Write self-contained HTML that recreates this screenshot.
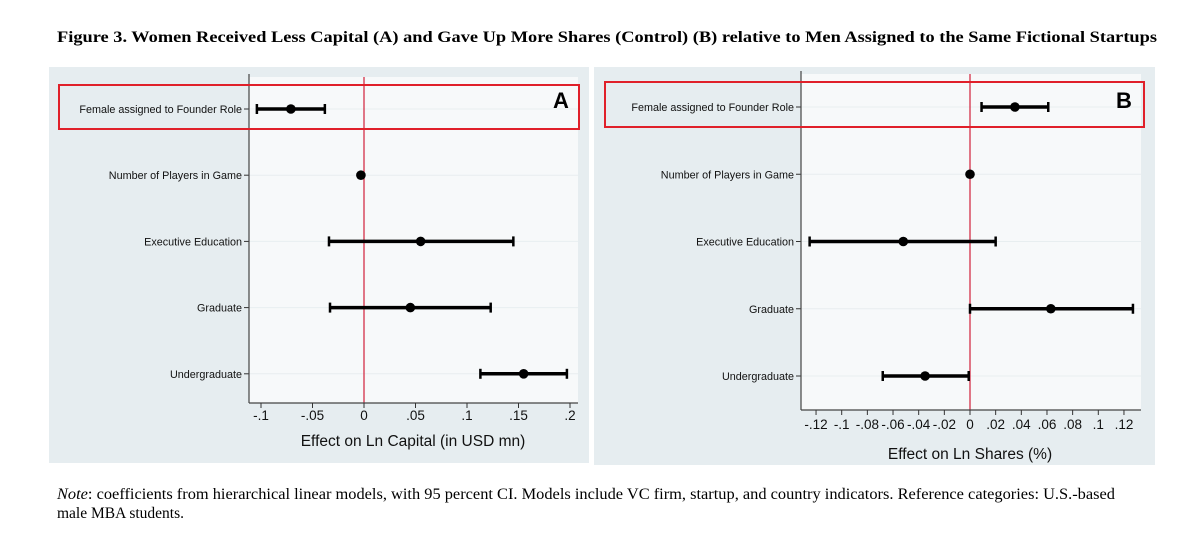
<!DOCTYPE html>
<html><head><meta charset="utf-8">
<style>
body{margin:0;background:#fff;width:1187px;height:540px;overflow:hidden;font-family:"Liberation Sans",sans-serif}
svg{display:block}
.t{font-family:"Liberation Serif",serif}
</style></head>
<body>
<svg id="fig" width="1187" height="540" xmlns="http://www.w3.org/2000/svg">
<text class="t" x="607" y="42" text-anchor="middle" font-size="16" font-weight="bold" textLength="1100" lengthAdjust="spacingAndGlyphs">Figure 3. Women Received Less Capital (A) and Gave Up More Shares (Control) (B) relative to Men Assigned to the Same Fictional Startups</text>
<rect x="49" y="67" width="540" height="396" fill="#e6edf0"/>
<rect x="594" y="67" width="561" height="398" fill="#e6edf0"/>
<g id="pa"></g>
<g id="pb"></g>
<text class="t" x="57" y="499" font-size="15.5" textLength="1058" lengthAdjust="spacingAndGlyphs"><tspan font-style="italic">Note</tspan>: coefficients from hierarchical linear models, with 95 percent CI. Models include VC firm, startup, and country indicators. Reference categories: U.S.-based</text>
<text class="t" x="57" y="518" font-size="15.5">male MBA students.</text>
</svg>
<script>
const categories = ["Female assigned to Founder Role","Number of Players in Game","Executive Education","Graduate","Undergraduate"];
const aEst = [-0.071,-0.003,0.055,0.045,0.155];
const aLo = [-0.104,null,-0.034,-0.033,0.113];
const aHi = [-0.038,null,0.145,0.123,0.197];
const aTicks = [-0.1,-0.05,0,0.05,0.1,0.15,0.2];
const aTickLabels = ["-.1","-.05","0",".05",".1",".15",".2"];
const bEst = [0.035,0,-0.052,0.063,-0.035];
const bLo = [0.009,null,-0.125,0,-0.068];
const bHi = [0.061,null,0.020,0.127,-0.001];
const bTicks = [-0.12,-0.1,-0.08,-0.06,-0.04,-0.02,0,0.02,0.04,0.06,0.08,0.1,0.12];
const bTickLabels = ["-.12","-.1","-.08","-.06","-.04","-.02","0",".02",".04",".06",".08",".1",".12"];
const NS="http://www.w3.org/2000/svg";
function mk(p,tag,at){const e=document.createElementNS(NS,tag);for(const k in at)e.setAttribute(k,at[k]);p.appendChild(e);return e;}
function panel(g,o){
  const X=v=>o.x0+v*o.k;
  const Y=i=>o.rows[0]+i*(o.rows[1]-o.rows[0]);
  let r=mk(g,'rect',{x:o.left,y:o.top,width:o.right-o.left,height:o.axisY-o.top,fill:'#f7f9fa'});
  
  
  categories.forEach((c,i)=>{
    let gl=mk(g,'line',{x1:o.left,x2:o.right,y1:Y(i),y2:Y(i),stroke:'#e8eef0','stroke-width':1});
    
    
    mk(g,'line',{x1:o.left-5,x2:o.left,y1:Y(i),y2:Y(i),stroke:'#333','stroke-width':1});
    let t=mk(g,'text',{x:o.left-7,y:Y(i)+4,'text-anchor':'end','font-size':10.8,fill:'#111'});
    t.textContent=c;
    
    
  });
  let z=mk(g,'line',{x1:X(0),x2:X(0),y1:o.top,y2:o.axisY,stroke:'#d0203a','stroke-width':1.2});
  
  
  mk(g,'line',{x1:o.left,x2:o.left,y1:o.top-3,y2:o.axisY,stroke:'#444','stroke-width':1.2});
  mk(g,'line',{x1:o.left,x2:o.right,y1:o.axisY,y2:o.axisY,stroke:'#444','stroke-width':1.2});
  o.ticks.forEach((v,i)=>{
    mk(g,'line',{x1:X(v),x2:X(v),y1:o.axisY,y2:o.axisY+5,stroke:'#333'});
    let t=mk(g,'text',{x:X(v),y:o.axisY+o.labOff,'text-anchor':'middle','font-size':13.5,fill:'#111'});
    t.textContent=o.labels[i];
    
    
  });
  let xt=mk(g,'text',{x:o.titleX,y:o.titleY,'text-anchor':'middle','font-size':15.5,fill:'#111'});
  xt.textContent=o.title;
  
  
  o.est.forEach((v,i)=>{
    if(o.lo[i]!==null){
      let l=mk(g,'line',{x1:X(o.lo[i]),x2:X(o.hi[i]),y1:Y(i),y2:Y(i),stroke:'#000','stroke-width':3.5});
      
      
      [o.lo[i],o.hi[i]].forEach(e=>mk(g,'line',{x1:X(e),x2:X(e),y1:Y(i)-5,y2:Y(i)+5,stroke:'#000','stroke-width':2.5}));
    }
    let c=mk(g,'circle',{cx:X(v),cy:Y(i),r:4.8,fill:'#000'});
    
    
  });
  let b=mk(g,'rect',{x:o.box[0],y:o.box[1],width:o.box[2],height:o.box[3],fill:'none',stroke:'#e0202a','stroke-width':2});
  
  
  let L=mk(g,'text',{x:o.letter[0],y:o.letter[1],'text-anchor':'middle','font-size':22,'font-weight':'bold',fill:'#000'});
  L.textContent=o.letterT;
  
  
}
panel(document.getElementById('pa'),{x0:364,k:1030,left:249,right:578,top:77,axisY:403,rows:[109,175.2],labOff:17,
  ticks:aTicks,labels:aTickLabels,est:aEst,lo:aLo,hi:aHi,title:"Effect on Ln Capital (in USD mn)",titleX:413,titleY:446,
  box:[59,85,520,44],letter:[561,108],letterT:"A"});
panel(document.getElementById('pb'),{x0:970,k:1283,left:801,right:1141,top:74,axisY:410,rows:[107,174.25],labOff:19,
  ticks:bTicks,labels:bTickLabels,est:bEst,lo:bLo,hi:bHi,title:"Effect on Ln Shares (%)",titleX:970,titleY:459,
  box:[605,82,539,45],letter:[1124,108],letterT:"B"});
</script>
</body></html>
